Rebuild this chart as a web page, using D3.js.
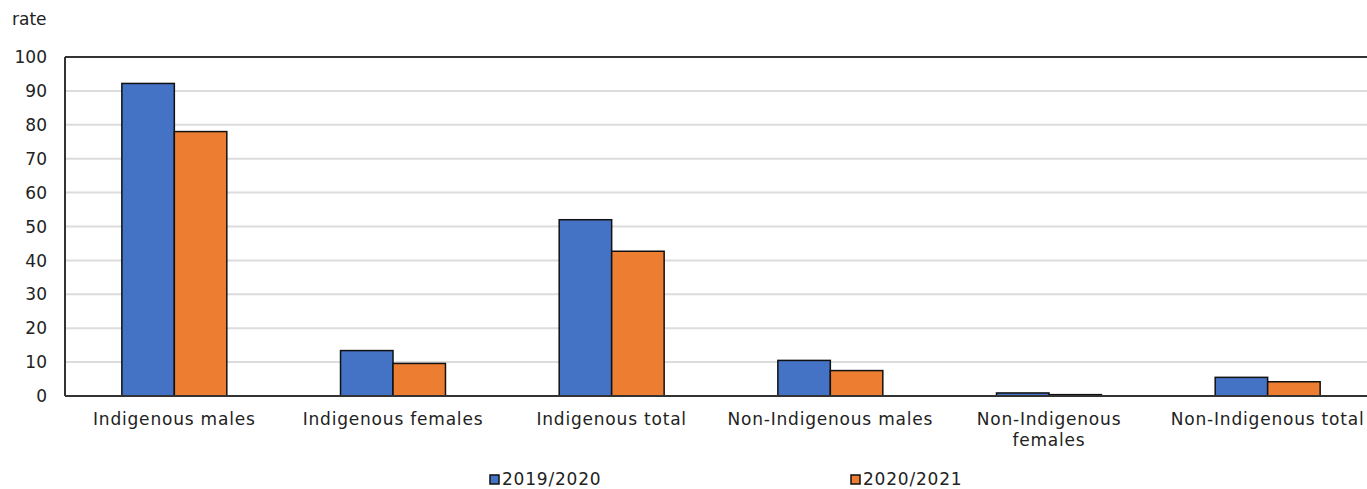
<!DOCTYPE html>
<html>
<head>
<meta charset="utf-8">
<script src="https://cdn.jsdelivr.net/npm/d3@7"></script>
<style>
  html, body { margin: 0; padding: 0; background: #fff; }
  svg { display: block; font-family: "DejaVu Sans", Verdana, sans-serif; }
</style>
</head>
<body>
<svg id="chart" width="1367" height="489"></svg>
<script>
// Rates by group, two fiscal years
const categories = [
  ["Indigenous males"],
  ["Indigenous females"],
  ["Indigenous total"],
  ["Non-Indigenous males"],
  ["Non-Indigenous", "females"],
  ["Non-Indigenous total"]
];
const seriesNames = ["2019/2020", "2020/2021"];
const values2019 = [92.2, 13.4, 52.0, 10.5, 0.9, 5.5];
const values2020 = [78.0, 9.6, 42.7, 7.5, 0.4, 4.2];
const yTicks = [0, 10, 20, 30, 40, 50, 60, 70, 80, 90, 100];
const colors = ["#4472c4", "#ed7d31"];

const svg = d3.select("#chart");
const W = 1367;
const x0 = 65, x1 = W + 10, yTop = 57, yBot = 396;
const FS = 17, LS = "0.8px";

const keys = categories.map(c => c.join(" "));
const x = d3.scaleBand().domain(keys).range([x0, x1]).paddingInner(0.52).paddingOuter(0.26);
const xs = d3.scaleBand().domain(seriesNames).range([0, x.bandwidth()]);
const y = d3.scaleLinear().domain([0, 100]).range([yBot, yTop]);

// gridlines
svg.append("g").selectAll("line").data(yTicks.filter(t => t > 0 && t < 100)).join("line")
  .attr("x1", x0).attr("x2", W).attr("y1", d => y(d)).attr("y2", d => y(d))
  .attr("stroke", "#dcdcdc").attr("stroke-width", 2);

// y tick labels
svg.append("g").selectAll("text").data(yTicks).join("text")
  .attr("x", 47).attr("y", d => y(d)).attr("dy", "0.36em")
  .attr("text-anchor", "end").attr("font-size", FS).attr("fill", "#222")
  .text(d => d);

svg.append("text").attr("x", 12).attr("y", 25).attr("font-size", FS)
  .attr("fill", "#222").text("rate");

// bars
const rows = keys.map((k, i) => ({ key: k, vals: [values2019[i], values2020[i]] }));
const groups = svg.append("g").selectAll("g").data(rows).join("g")
  .attr("transform", d => `translate(${x(d.key)},0)`);
groups.selectAll("rect").data(d => d.vals.map((v, j) => ({ v, s: seriesNames[j], j }))).join("rect")
  .attr("x", d => xs(d.s)).attr("width", xs.bandwidth())
  .attr("y", d => y(d.v)).attr("height", d => y(0) - y(d.v))
  .attr("fill", d => colors[d.j]).attr("stroke", "#111").attr("stroke-width", 1.5);

// frame: top, left, bottom
svg.append("line").attr("x1", x0).attr("x2", W).attr("y1", yTop).attr("y2", yTop).attr("stroke", "#333").attr("stroke-width", 2);
svg.append("line").attr("x1", x0).attr("x2", x0).attr("y1", yTop).attr("y2", yBot).attr("stroke", "#333").attr("stroke-width", 2);
svg.append("line").attr("x1", x0).attr("x2", W).attr("y1", yBot).attr("y2", yBot).attr("stroke", "#333").attr("stroke-width", 2);

// category labels
const lab = svg.append("g").selectAll("text").data(categories).join("text")
  .attr("x", (d, i) => x(keys[i]) + x.bandwidth() / 2)
  .attr("y", 425).attr("text-anchor", "middle").attr("font-size", FS).attr("letter-spacing", LS).attr("fill", "#222");
lab.selectAll("tspan").data(d => d).join("tspan")
  .attr("x", function () { return d3.select(this.parentNode).attr("x"); })
  .attr("dy", (d, i) => i === 0 ? 0 : 21).text(d => d);

// legend
const legendX = [490, 851];
seriesNames.forEach((s, i) => {
  svg.append("rect").attr("x", legendX[i]).attr("y", 475).attr("width", 9).attr("height", 9)
    .attr("fill", colors[i]).attr("stroke", "#111").attr("stroke-width", 1.5);
  svg.append("text").attr("x", legendX[i] + 12).attr("y", 485).attr("font-size", FS).attr("letter-spacing", LS)
    .attr("fill", "#222").text(s);
});
</script>
</body>
</html>
